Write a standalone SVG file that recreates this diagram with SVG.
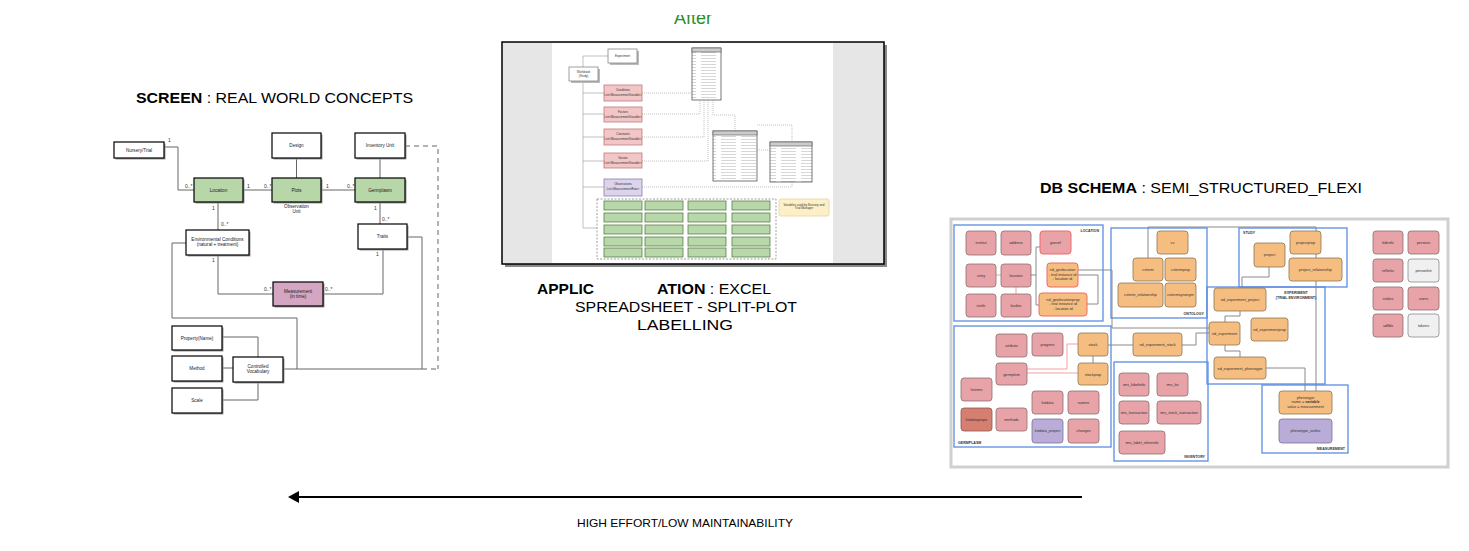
<svg xmlns="http://www.w3.org/2000/svg" width="1469" height="551" viewBox="0 0 1469 551">
<defs>
<style>
.t{font-family:"Liberation Sans",Arial,sans-serif}
.lb{fill:#fff;stroke:#000;stroke-width:1.2}
.sh{fill:#9a9a9a}
.gr{fill:#b7d7a8;stroke:#000;stroke-width:1.2}
.ms{fill:#d4a6c1;stroke:#000;stroke-width:1.2}
.lt{font-family:"Liberation Sans",Arial,sans-serif;font-size:4.6px;text-anchor:middle;fill:#222}
.ml{font-family:"Liberation Sans",Arial,sans-serif;font-size:5px;fill:#333}
.cl{fill:none;stroke:#666;stroke-width:1}
.cd{fill:none;stroke:#666;stroke-width:1;stroke-dasharray:5,4}
.cb{fill:#fff;stroke:#777;stroke-width:0.7}
.pk{fill:#f2c6c6;stroke:#c47878;stroke-width:0.8}
.pu{fill:#dcd3ec;stroke:#8a80a8;stroke-width:0.8}
.gb{fill:#b8d8a9;stroke:#5a7f4b;stroke-width:0.8}
.ct{font-family:"Liberation Sans",Arial,sans-serif;font-size:3px;text-anchor:middle;fill:#333}
.cc{fill:none;stroke:#999;stroke-width:0.6}
.cdot{fill:none;stroke:#999;stroke-width:0.6;stroke-dasharray:1,1}
.sp{fill:#e8a3a8;stroke:#8a6e70;stroke-width:0.8}
.spr{fill:#e8a3a8;stroke:#f06a6a;stroke-width:1}
.so{fill:#f6bd80;stroke:#8c7656;stroke-width:0.8}
.sor{fill:#f6bd80;stroke:#f06a6a;stroke-width:1}
.su{fill:#b9acd8;stroke:#7d7196;stroke-width:0.8}
.sd{fill:#d67e70;stroke:#8a5a52;stroke-width:0.8}
.sg{fill:#f0f0f0;stroke:#8a8a8a;stroke-width:0.8}
.st{font-family:"Liberation Sans",Arial,sans-serif;font-size:3.8px;text-anchor:middle;fill:#333}
.grp{fill:none;stroke:#5a8ee0;stroke-width:1.3}
.gl{font-family:"Liberation Sans",Arial,sans-serif;font-size:3.6px;font-weight:bold;fill:#333}
.sc{fill:none;stroke:#8a8a8a;stroke-width:1}
.sr{fill:none;stroke:#f4a0a0;stroke-width:1}
</style>
<pattern id="rows" width="20" height="3" patternUnits="userSpaceOnUse">
<rect width="20" height="3" fill="#fff"/>
<line x1="1" y1="1.5" x2="16" y2="1.5" stroke="#c4c4c4" stroke-width="0.7"/>
</pattern>
<clipPath id="afterclip"><rect x="600" y="15" width="200" height="20"/></clipPath>
</defs>
<rect width="1469" height="551" fill="#fff"/>

<!-- Titles -->
<g id="titles">
<text class="t" x="693" y="24" font-size="18" fill="#2a8f2a" text-anchor="middle" clip-path="url(#afterclip)">After</text>
<text class="t" x="136" y="103" font-size="15.5" fill="#000" textLength="277" lengthAdjust="spacingAndGlyphs"><tspan font-weight="bold">SCREEN</tspan> : REAL WORLD CONCEPTS</text>
<text class="t" x="537" y="294" font-size="15.5" fill="#000" font-weight="bold" textLength="57" lengthAdjust="spacingAndGlyphs">APPLIC</text>
<text class="t" x="657" y="294" font-size="15.5" fill="#000" textLength="114" lengthAdjust="spacingAndGlyphs"><tspan font-weight="bold">ATION</tspan> : EXCEL</text>
<text class="t" x="575" y="312" font-size="15.5" fill="#000" textLength="222" lengthAdjust="spacingAndGlyphs">SPREADSHEET - SPLIT-PLOT</text>
<text class="t" x="637" y="330" font-size="15.5" fill="#000" textLength="96" lengthAdjust="spacingAndGlyphs">LABELLING</text>
<text class="t" x="1040" y="193" font-size="15.5" fill="#000" textLength="322" lengthAdjust="spacingAndGlyphs"><tspan font-weight="bold">DB SCHEMA</tspan> : SEMI_STRUCTURED_FLEXI</text>
</g>

<!-- Left diagram connectors -->
<g id="screen-connectors">
<path class="cl" d="M164,147 H178 V190 H194"/>
<path class="cl" d="M243,190 H272"/>
<path class="cl" d="M296.5,158 V178" stroke="#aaa"/>
<path class="cl" d="M321,190 H355"/>
<path class="cl" d="M380,158 V178"/>
<path class="cl" d="M380,202 V224"/>
<path class="cl" d="M218,202 V230"/>
<path class="cl" d="M218,255 V294 H273"/>
<path class="cl" d="M383,249 V294 H323"/>
<path class="cl" d="M186,243 H172 V318 H297 V369"/>
<path class="cl" d="M283,369 H422"/>
<path class="cd" d="M422,369 H438"/>
<path class="cl" d="M407,237 H422 V369"/>
<path class="cd" d="M405,146 H438 V369"/>
<path class="cl" d="M222,337 H258 V357"/>
<path class="cl" d="M222,368 H233"/>
<path class="cl" d="M222,400 H258 V382"/>
<text class="ml" x="168" y="142">1</text>
<text class="ml" x="185" y="188">0..*</text>
<text class="ml" x="247" y="188">1</text>
<text class="ml" x="264" y="188">0..*</text>
<text class="ml" x="326" y="188">1</text>
<text class="ml" x="347" y="188">0..*</text>
<text class="ml" x="374" y="210">1</text>
<text class="ml" x="382" y="221">0..*</text>
<text class="ml" x="212" y="210">1</text>
<text class="ml" x="221" y="226">0..*</text>
<text class="ml" x="212" y="262">1</text>
<text class="ml" x="264" y="291">0..*</text>
<text class="ml" x="376" y="256">1</text>
<text class="ml" x="325" y="291">0..*</text>
</g>

<!-- Left diagram nodes -->
<g id="nursery-trial"><rect class="sh" x="115.5" y="143.5" width="50" height="16"/><rect class="lb" x="114" y="142" width="50" height="16"/><text class="lt" x="139" y="151.5">Nursery/Trial</text></g>
<g id="design"><rect class="sh" x="273.5" y="134.5" width="49" height="25"/><rect class="lb" x="272" y="133" width="49" height="25"/><text class="lt" x="296.5" y="147">Design</text></g>
<g id="inventory-unit"><rect class="sh" x="356.5" y="134.5" width="50" height="25"/><rect class="lb" x="355" y="133" width="50" height="25" stroke-width="0.8"/><text class="lt" x="380" y="147">Inventory Unit</text></g>
<g id="location"><rect class="sh" x="195.5" y="179.5" width="49" height="24"/><rect class="gr" x="194" y="178" width="49" height="24"/><text class="lt" x="218.5" y="191.5">Location</text></g>
<g id="plots"><rect class="sh" x="273.5" y="179.5" width="49" height="24"/><rect class="gr" x="272" y="178" width="49" height="24"/><text class="lt" x="296.5" y="191.5">Plots</text><text class="lt" x="296.5" y="208">Observation</text><text class="lt" x="296.5" y="213">Unit</text></g>
<g id="germplasm"><rect class="sh" x="356.5" y="179.5" width="50" height="24"/><rect class="gr" x="355" y="178" width="50" height="24"/><text class="lt" x="380" y="191.5">Germplasm</text></g>
<g id="traits"><rect class="sh" x="359.5" y="225.5" width="49" height="25"/><rect class="lb" x="358" y="224" width="49" height="25"/><text class="lt" x="382.5" y="238">Traits</text></g>
<g id="env-conditions"><rect class="sh" x="187.5" y="231.5" width="63" height="25"/><rect class="lb" x="186" y="230" width="63" height="25"/><text class="lt" x="217.5" y="240.5">Environmental Conditions</text><text class="lt" x="217.5" y="245.5">(natural + treatment)</text></g>
<g id="measurement"><rect class="sh" x="274.5" y="283.5" width="50" height="24"/><rect class="ms" x="273" y="282" width="50" height="24"/><text class="lt" x="298" y="292.5">Measurement</text><text class="lt" x="298" y="297.5">(in time)</text></g>
<g id="property"><rect class="sh" x="173.5" y="327.5" width="50" height="24"/><rect class="lb" x="172" y="326" width="50" height="24" stroke-width="0.8"/><text class="lt" x="197" y="339.5">Property(Name)</text></g>
<g id="method"><rect class="sh" x="173.5" y="357.5" width="50" height="25"/><rect class="lb" x="172" y="356" width="50" height="25"/><text class="lt" x="197" y="370">Method</text></g>
<g id="scale"><rect class="sh" x="173.5" y="389.5" width="50" height="25"/><rect class="lb" x="172" y="388" width="50" height="25"/><text class="lt" x="197" y="402">Scale</text></g>
<g id="controlled-vocabulary"><rect class="sh" x="234.5" y="358.5" width="50" height="25"/><rect class="lb" x="233" y="357" width="50" height="25"/><text class="lt" x="258" y="367.5">Controlled</text><text class="lt" x="258" y="372.5">Vocabulary</text></g>

<!-- Center screenshot -->
<g id="app-screenshot">
<rect x="505" y="45" width="382" height="222" fill="#8a8a8a"/>
<rect x="502" y="42" width="382" height="222" fill="#e6e6e6" stroke="#000" stroke-width="1.5"/>
<rect x="552" y="43" width="281" height="220" fill="#fff"/>
<path class="cc" d="M583,67 V56 H608 M583,81 V228 H597 M583,93 H604 M583,114 H604 M583,137 H604 M583,161 H604 M583,187 H604"/>
<path class="cdot" d="M642,93 H692 M642,114 H700 V100 M642,137 H704 V100 M642,161 H708 V100 M642,187 H792 V125 H757 M713,100 V115 H735 V131 M757,150 H770"/>
<rect x="610" y="51" width="29" height="14" fill="#bbb"/><rect class="cb" x="608" y="49" width="29" height="14"/><text class="ct" x="622.5" y="57">Experiment</text>
<rect x="571" y="69" width="29" height="14" fill="#bbb"/><rect class="cb" x="569" y="67" width="29" height="14"/><text class="ct" x="583.5" y="73">Workbook</text><text class="ct" x="583.5" y="77">(Study)</text>
<rect class="pk" x="604" y="85" width="38" height="16"/><text class="ct" x="623" y="91">Conditions</text><text class="ct" x="623" y="96" font-size="2.2">List&lt;MeasurementVariable&gt;</text>
<rect class="pk" x="604" y="107" width="38" height="15"/><text class="ct" x="623" y="113">Factors</text><text class="ct" x="623" y="118" font-size="2.2">List&lt;MeasurementVariable&gt;</text>
<rect class="pk" x="604" y="129" width="38" height="16"/><text class="ct" x="623" y="135">Constants</text><text class="ct" x="623" y="140" font-size="2.2">List&lt;MeasurementVariable&gt;</text>
<rect class="pk" x="604" y="153" width="38" height="15"/><text class="ct" x="623" y="159">Variate</text><text class="ct" x="623" y="164" font-size="2.2">List&lt;MeasurementVariable&gt;</text>
<rect class="pu" x="604" y="179" width="38" height="17"/><text class="ct" x="623" y="185">Observations</text><text class="ct" x="623" y="190" font-size="2.2">List&lt;MeasurementRow&gt;</text>
<rect x="692" y="48" width="29" height="52" fill="url(#rows)" stroke="#555" stroke-width="0.8"/><rect x="692" y="48" width="29" height="4" fill="#ccc" stroke="#555" stroke-width="0.6"/>
<rect x="713" y="131" width="44" height="50" fill="url(#rows)" stroke="#555" stroke-width="0.8"/><rect x="713" y="131" width="44" height="4" fill="#ccc" stroke="#555" stroke-width="0.6"/>
<rect x="770" y="142" width="42" height="40" fill="url(#rows)" stroke="#555" stroke-width="0.8"/><rect x="770" y="142" width="42" height="4" fill="#ccc" stroke="#555" stroke-width="0.6"/>
<rect x="779" y="199" width="50" height="17" rx="2" fill="#fdf0c8" stroke="#e6d49c" stroke-width="0.8"/><text class="ct" x="804" y="206" font-size="2.4">Variables used by Nursery and</text><text class="ct" x="804" y="209" font-size="2.4">Trial Manager</text>
<rect x="597" y="199" width="179" height="60" fill="none" stroke="#777" stroke-width="0.7" stroke-dasharray="2,1.5"/>
<g>
<rect class="gb" x="604" y="201" width="38" height="9"/><rect class="gb" x="645" y="201" width="38" height="9"/><rect class="gb" x="688" y="201" width="38" height="9"/><rect class="gb" x="732" y="201" width="38" height="9"/>
<rect class="gb" x="604" y="213" width="38" height="9"/><rect class="gb" x="645" y="213" width="38" height="9"/><rect class="gb" x="688" y="213" width="38" height="9"/><rect class="gb" x="732" y="213" width="38" height="9"/>
<rect class="gb" x="604" y="225" width="38" height="9"/><rect class="gb" x="645" y="225" width="38" height="9"/><rect class="gb" x="688" y="225" width="38" height="9"/><rect class="gb" x="732" y="225" width="38" height="9"/>
<rect class="gb" x="604" y="237" width="38" height="9"/><rect class="gb" x="645" y="237" width="38" height="9"/><rect class="gb" x="688" y="237" width="38" height="9"/><rect class="gb" x="732" y="237" width="38" height="9"/>
<rect class="gb" x="604" y="248" width="38" height="9"/><rect class="gb" x="645" y="248" width="38" height="9"/><rect class="gb" x="688" y="248" width="38" height="9"/><rect class="gb" x="732" y="248" width="38" height="9"/>
</g>
</g>

<!-- Right schema screenshot -->
<g id="db-schema">
<rect x="951" y="219" width="497" height="248" fill="#fff" stroke="#d0d0d0" stroke-width="3"/>
<g id="schema-connectors">
<path class="sr" d="M996,275 H1001 M1016,287 V294"/>
<path class="sc" d="M1031,275 H1036 V247 H1040 M1036,275 V305 H1039"/>
<path class="sc" d="M1078,275 H1098 V304 H1087"/>
<path class="sc" d="M1078,270 H1112 V328 H1209"/>
<path class="sc" d="M1148,258 V227 H1316 V391"/>
<path class="sc" d="M1108,345 H1133 M1182,345 H1196 V333 H1209 M1093,356 V363"/>
<path class="sr" d="M1027,369 H1067 V344 H1078 M1027,373 H1078"/>
<path class="sc" d="M1269,267 V277 H1242 V288"/>
<path class="sc" d="M1240,311 V316 H1225 V322 M1225,345 V351 H1240 V357 M1266,368 H1305 V391"/>
</g>
<g id="grp-location"><rect class="grp" x="954" y="225" width="149" height="96"/><text class="gl" x="1099" y="232" text-anchor="end">LOCATION</text></g>
<g id="grp-ontology"><rect class="grp" x="1111" y="228" width="96" height="90"/><text class="gl" x="1204" y="315" text-anchor="end">ONTOLOGY</text></g>
<g id="grp-study"><rect class="grp" x="1239" y="228" width="108" height="59"/><text class="gl" x="1243" y="234">STUDY</text></g>
<g id="grp-experiment"><rect class="grp" x="1207" y="287" width="118" height="97"/><text class="gl" x="1296" y="294" text-anchor="middle">EXPERIMENT</text><text class="gl" x="1296" y="298.5" text-anchor="middle">(TRIAL ENVIRONMENT)</text></g>
<g id="grp-germplasm"><rect class="grp" x="954" y="326" width="157" height="121"/><text class="gl" x="958" y="444">GERMPLASM</text></g>
<g id="grp-inventory"><rect class="grp" x="1114" y="362" width="94" height="99"/><text class="gl" x="1205" y="458" text-anchor="end">INVENTORY</text></g>
<g id="grp-measurement"><rect class="grp" x="1262" y="385" width="86" height="68"/><text class="gl" x="1345" y="450" text-anchor="end">MEASUREMENT</text></g>

<g id="t-institut"><rect class="sp" x="966" y="231" width="30" height="24" rx="3"/><text class="st" x="981" y="244">institut</text></g>
<g id="t-address"><rect class="sp" x="1001" y="231" width="30" height="24" rx="3"/><text class="st" x="1016" y="244">address</text></g>
<g id="t-georef"><rect class="spr" x="1040" y="231" width="31" height="23" rx="3"/><text class="st" x="1055.5" y="244">georef</text></g>
<g id="t-cntry"><rect class="sp" x="966" y="264" width="30" height="23" rx="3"/><text class="st" x="981" y="277">cntry</text></g>
<g id="t-location"><rect class="sp" x="1001" y="264" width="30" height="23" rx="3"/><text class="st" x="1016" y="277">location</text></g>
<g id="t-nd-geolocation"><rect class="sor" x="1047" y="263" width="31" height="24" rx="3"/><text class="st" x="1062.5" y="271">nd_geolocation</text><text class="st" x="1062.5" y="275.5">- trial instance id</text><text class="st" x="1062.5" y="280">- location id</text></g>
<g id="t-instln"><rect class="sp" x="966" y="294" width="30" height="23" rx="3"/><text class="st" x="981" y="307">instln</text></g>
<g id="t-locdes"><rect class="sp" x="1001" y="294" width="30" height="23" rx="3"/><text class="st" x="1016" y="307">locdes</text></g>
<g id="t-nd-geolocationprop"><rect class="sor" x="1039" y="293" width="48" height="23" rx="3"/><text class="st" x="1063" y="300.5">nd_geolocationprop</text><text class="st" x="1063" y="305">- trial instance id</text><text class="st" x="1063" y="309.5">- location id</text></g>

<g id="t-cv"><rect class="so" x="1157" y="231" width="31" height="23" rx="3"/><text class="st" x="1172.5" y="244">cv</text></g>
<g id="t-cvterm"><rect class="so" x="1133" y="258" width="30" height="23" rx="3"/><text class="st" x="1148" y="271">cvterm</text></g>
<g id="t-cvtermprop"><rect class="so" x="1165" y="258" width="31" height="23" rx="3"/><text class="st" x="1180.5" y="271">cvtermprop</text></g>
<g id="t-cvterm-relationship"><rect class="so" x="1118" y="283" width="45" height="24" rx="3"/><text class="st" x="1140.5" y="296">cvterm_relationship</text></g>
<g id="t-cvtermsynonym"><rect class="so" x="1165" y="283" width="31" height="24" rx="3"/><text class="st" x="1180.5" y="296">cvtermsynonym</text></g>

<g id="t-project"><rect class="so" x="1254" y="243" width="31" height="24" rx="3"/><text class="st" x="1269.5" y="256">project</text></g>
<g id="t-projectprop"><rect class="so" x="1290" y="231" width="31" height="23" rx="3"/><text class="st" x="1305.5" y="244">projectprop</text></g>
<g id="t-project-relationship"><rect class="so" x="1289" y="258" width="53" height="23" rx="3"/><text class="st" x="1315.5" y="271">project_relationship</text></g>

<g id="t-nd-experiment-project"><rect class="so" x="1214" y="288" width="52" height="23" rx="3"/><text class="st" x="1240" y="301">nd_experiment_project</text></g>
<g id="t-nd-experimentprop"><rect class="so" x="1251" y="318" width="37" height="23" rx="3"/><text class="st" x="1269.5" y="331">nd_experimentprop</text></g>
<g id="t-nd-experiment"><rect class="so" x="1209" y="322" width="31" height="23" rx="3"/><text class="st" x="1224.5" y="335">nd_experiment</text></g>
<g id="t-nd-experiment-phenotype"><rect class="so" x="1214" y="357" width="52" height="22" rx="3"/><text class="st" x="1240" y="369.5">nd_experiment_phenotype</text></g>
<g id="t-nd-experiment-stock"><rect class="so" x="1133" y="333" width="49" height="23" rx="3"/><text class="st" x="1157.5" y="346">nd_experiment_stock</text></g>

<g id="t-phenotype"><rect class="so" x="1279" y="391" width="53" height="23" rx="3"/><text class="st" x="1305.5" y="398.5">phenotype</text><text class="st" x="1305.5" y="403">name = <tspan font-weight="bold">variable</tspan></text><text class="st" x="1305.5" y="407.5">value = measurement</text></g>
<g id="t-phenotype-outlier"><rect class="su" x="1279" y="419" width="53" height="24" rx="3"/><text class="st" x="1305.5" y="432">phenotype_outlier</text></g>

<g id="t-atributs"><rect class="sp" x="996" y="334" width="31" height="23" rx="3"/><text class="st" x="1011.5" y="347">atributs</text></g>
<g id="t-progntrs"><rect class="sp" x="1032" y="333" width="31" height="23" rx="3"/><text class="st" x="1047.5" y="346">progntrs</text></g>
<g id="t-stock"><rect class="so" x="1078" y="333" width="30" height="23" rx="3"/><text class="st" x="1093" y="346">stock</text></g>
<g id="t-germplsm"><rect class="sp" x="996" y="363" width="31" height="22" rx="3"/><text class="st" x="1011.5" y="375.5">germplsm</text></g>
<g id="t-stockprop"><rect class="so" x="1078" y="363" width="30" height="22" rx="3"/><text class="st" x="1093" y="375.5">stockprop</text></g>
<g id="t-listnms"><rect class="sp" x="961" y="378" width="31" height="23" rx="3"/><text class="st" x="976.5" y="391">listnms</text></g>
<g id="t-listdataprops"><rect class="sd" x="961" y="408" width="31" height="23" rx="3"/><text class="st" x="976.5" y="421">listdataprops</text></g>
<g id="t-methods"><rect class="sp" x="996" y="408" width="31" height="23" rx="3"/><text class="st" x="1011.5" y="421">methods</text></g>
<g id="t-listdata"><rect class="sp" x="1032" y="391" width="31" height="23" rx="3"/><text class="st" x="1047.5" y="404">listdata</text></g>
<g id="t-names"><rect class="sp" x="1068" y="391" width="31" height="23" rx="3"/><text class="st" x="1083.5" y="404">names</text></g>
<g id="t-listdata-project"><rect class="su" x="1032" y="419" width="31" height="24" rx="3"/><text class="st" x="1047.5" y="432">listdata_project</text></g>
<g id="t-changes"><rect class="sp" x="1068" y="419" width="31" height="24" rx="3"/><text class="st" x="1083.5" y="432">changes</text></g>

<g id="t-ims-labelinfo"><rect class="sp" x="1119" y="373" width="30" height="23" rx="3"/><text class="st" x="1134" y="386">ims_labelinfo</text></g>
<g id="t-ims-lot"><rect class="sp" x="1157" y="373" width="31" height="23" rx="3"/><text class="st" x="1172.5" y="386">ims_lot</text></g>
<g id="t-ims-transaction"><rect class="sp" x="1119" y="401" width="30" height="23" rx="3"/><text class="st" x="1134" y="414">ims_transaction</text></g>
<g id="t-ims-stock-transaction"><rect class="sp" x="1157" y="401" width="44" height="23" rx="3"/><text class="st" x="1179" y="414">ims_stock_transaction</text></g>
<g id="t-ims-label-otherinfo"><rect class="sp" x="1119" y="431" width="46" height="23" rx="3"/><text class="st" x="1142" y="444">ims_label_otherinfo</text></g>

<g id="t-bibrefs"><rect class="sp" x="1373" y="231" width="30" height="23" rx="3"/><text class="st" x="1388" y="244">bibrefs</text></g>
<g id="t-persons"><rect class="sp" x="1408" y="231" width="31" height="23" rx="3"/><text class="st" x="1423.5" y="244">persons</text></g>
<g id="t-reflinks"><rect class="sp" x="1373" y="259" width="30" height="23" rx="3"/><text class="st" x="1388" y="272">reflinks</text></g>
<g id="t-personlist"><rect class="sg" x="1408" y="259" width="31" height="23" rx="3"/><text class="st" x="1423.5" y="272">personlist</text></g>
<g id="t-sndivs"><rect class="sp" x="1373" y="287" width="30" height="23" rx="3"/><text class="st" x="1388" y="300">sndivs</text></g>
<g id="t-users"><rect class="sp" x="1408" y="287" width="31" height="23" rx="3"/><text class="st" x="1423.5" y="300">users</text></g>
<g id="t-udflds"><rect class="sp" x="1373" y="314" width="30" height="23" rx="3"/><text class="st" x="1388" y="327">udflds</text></g>
<g id="t-tokens"><rect class="sg" x="1408" y="314" width="31" height="23" rx="3"/><text class="st" x="1423.5" y="327">tokens</text></g>
</g>

<!-- Bottom arrow -->
<g id="effort-arrow">
<line x1="1082" y1="497" x2="297" y2="497" stroke="#000" stroke-width="2"/>
<polygon points="288,497 299,491 299,503" fill="#000"/>
<text class="t" x="577" y="527" font-size="11.5" fill="#000" textLength="216" lengthAdjust="spacingAndGlyphs">HIGH EFFORT/LOW MAINTAINABILITY</text>
</g>
</svg>
